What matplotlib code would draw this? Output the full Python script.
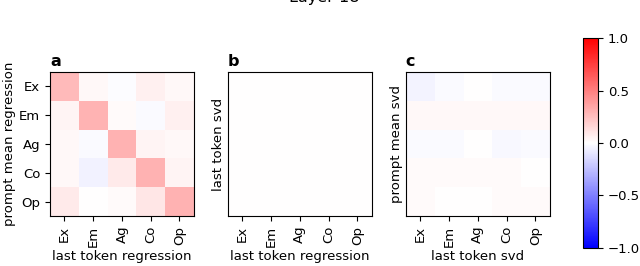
import numpy as np
import matplotlib
matplotlib.use("Agg")
import matplotlib.pyplot as plt

plt.rcParams["font.size"] = 9.5

traits = ["Ex", "Em", "Ag", "Co", "Op"]

# prompt mean regression (rows) vs last token regression (cols)
mat_a = np.array([
    [0.27, 0.03, -0.01, 0.06, 0.03],
    [0.04, 0.29, 0.02, -0.02, 0.06],
    [0.03, -0.02, 0.30, 0.04, 0.03],
    [0.03, -0.05, 0.08, 0.30, 0.04],
    [0.08, 0.00, 0.02, 0.10, 0.30],
])

# last token svd vs last token regression
mat_b = np.array([
    [0.005, 0.005, 0.004, 0.004, 0.005],
    [0.004, 0.005, 0.003, 0.004, 0.004],
    [0.005, 0.004, 0.004, 0.003, 0.004],
    [0.004, 0.004, 0.004, 0.004, 0.003],
    [0.004, 0.003, 0.004, 0.004, 0.004],
])

# prompt mean svd vs last token svd
mat_c = np.array([
    [-0.04, -0.02, 0.00, -0.02, -0.02],
    [0.03, 0.03, 0.03, 0.03, 0.03],
    [-0.02, -0.02, 0.00, -0.03, -0.02],
    [0.02, 0.02, 0.02, 0.02, 0.00],
    [0.02, 0.00, 0.00, 0.02, 0.02],
])

panels = [
    ("a", mat_a, "last token regression", "prompt mean regression", True),
    ("b", mat_b, "last token regression", "last token svd", False),
    ("c", mat_c, "last token svd", "prompt mean svd", False),
]

fig = plt.figure(figsize=(6.4, 2.66), dpi=100)

lefts = [0.078, 0.356, 0.634]
for left, (tag, mat, xlab, ylab, show_y) in zip(lefts, panels):
    ax = fig.add_axes([left, 0.188, 0.225, 0.541])
    im = ax.imshow(mat, cmap="bwr", vmin=-1, vmax=1)
    ax.set_xticks(range(len(traits)))
    ax.set_xticklabels(traits, rotation=90)
    if show_y:
        ax.set_yticks(range(len(traits)))
        ax.set_yticklabels(traits)
    else:
        ax.set_yticks([])
    ax.set_xlabel(xlab, labelpad=2)
    ax.set_ylabel(ylab, labelpad=2)
    ax.text(0.0, 1.02, tag, transform=ax.transAxes, fontweight="bold",
            fontsize=11.5, ha="left", va="bottom")

cax = fig.add_axes([0.911, 0.068, 0.0234, 0.789])
cbar = fig.colorbar(im, cax=cax)
cbar.set_ticks([-1.0, -0.5, 0.0, 0.5, 1.0])

fig.text(0.506, 0.992, "Layer 18", ha="center", va="baseline", fontsize=11.5)

fig.savefig("out.png", dpi=100)
